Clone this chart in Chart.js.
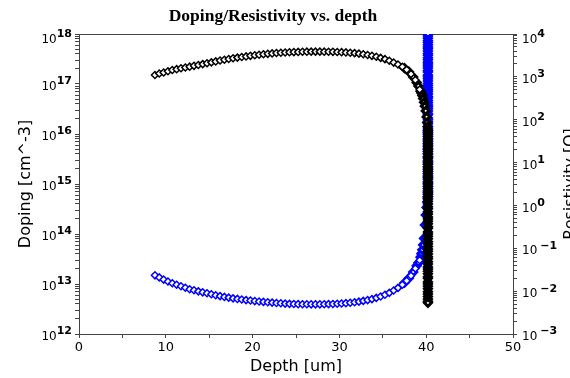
<!DOCTYPE html>
<html>
<head>
<meta charset="utf-8">
<script src="https://cdn.jsdelivr.net/npm/chart.js@4"></script>
<style>
  html, body { margin: 0; padding: 0; background: #fff; }
  #wrap { width: 570px; height: 378px; position: relative; }
</style>
</head>
<body>
<div id="wrap"><canvas id="chart"></canvas></div>
<script>
// depth [um] of the curved part, shared by both series
const depth = [8.75, 9.25, 9.75, 10.25, 10.75, 11.25, 11.75, 12.25, 12.75, 13.25,
  13.75, 14.25, 14.75, 15.25, 15.75, 16.25, 16.75, 17.25, 17.75, 18.25,
  18.75, 19.25, 19.75, 20.25, 20.75, 21.25, 21.75, 22.25, 22.75, 23.25,
  23.75, 24.25, 24.75, 25.25, 25.75, 26.25, 26.75, 27.25, 27.75, 28.25,
  28.75, 29.25, 29.75, 30.25, 30.75, 31.25, 31.75, 32.25, 32.75, 33.25,
  33.75, 34.25, 34.75, 35.25, 35.75, 36.25, 36.75, 37.25, 37.75, 38.25,
  38.75, 39.25];

// doping [cm^-3]
const doping = [1.51e17, 1.62e17, 1.70e17, 1.80e17, 1.91e17, 1.98e17, 2.06e17, 2.14e17, 2.22e17, 2.31e17,
  2.40e17, 2.50e17, 2.60e17, 2.71e17, 2.83e17, 2.95e17, 3.06e17, 3.16e17, 3.27e17, 3.37e17,
  3.47e17, 3.56e17, 3.66e17, 3.76e17, 3.85e17, 3.93e17, 4.01e17, 4.09e17, 4.16e17, 4.22e17,
  4.27e17, 4.31e17, 4.35e17, 4.38e17, 4.41e17, 4.43e17, 4.44e17, 4.44e17, 4.44e17, 4.43e17,
  4.42e17, 4.40e17, 4.37e17, 4.33e17, 4.28e17, 4.22e17, 4.14e17, 4.05e17, 3.94e17, 3.80e17,
  3.66e17, 3.51e17, 3.33e17, 3.14e17, 2.92e17, 2.68e17, 2.45e17, 2.21e17, 1.93e17, 1.58e17,
  1.20e17, 7.76e16];

// resistivity [Ohm]
const resistivity = [0.0234, 0.0209, 0.0186, 0.0168, 0.0153, 0.0141, 0.0130, 0.0120, 0.0111, 0.0105,
  0.00989, 0.00938, 0.00891, 0.00847, 0.00804, 0.00766, 0.00733, 0.00705, 0.00679, 0.00658,
  0.00637, 0.00618, 0.00603, 0.00586, 0.00573, 0.00561, 0.00550, 0.00540, 0.00530, 0.00520,
  0.00512, 0.00505, 0.00500, 0.00497, 0.00494, 0.00493, 0.00492, 0.00492, 0.00492, 0.00494,
  0.00498, 0.00501, 0.00507, 0.00514, 0.00524, 0.00536, 0.00551, 0.00569, 0.00592, 0.00619,
  0.00653, 0.00697, 0.00750, 0.00822, 0.00912, 0.01035, 0.0119, 0.0141, 0.0174, 0.0229,
  0.0339, 0.0525];

// extra (denser) points in the steep bend before the junction
const bendDepth = [37.5, 38.0, 38.5, 38.9, 39.1, 39.35, 39.45, 39.55, 39.65, 39.75, 39.85, 39.95, 40.05, 40.12, 40.17];
const dopingBend = [2.07e17, 1.76e17, 1.38e17, 1.07e17, 9.1e16, 7.2e16, 6.6e16, 5.9e16, 5.1e16, 4.3e16, 3.6e16, 2.9e16, 2.2e16, 1.7e16, 1.4e16];
const resistBend = [0.0157, 0.020, 0.0279, 0.039, 0.0457, 0.062, 0.075, 0.092, 0.12, 0.17, 0.35, 0.6, 0.9, 1.2, 1.5];

// vertical part at the junction
const edgeDepth = 40.2;
const dopingEdge = [1.2e16, 1.1e16, 1e16,
  9e15, 8e15, 7e15, 6.3e15, 5.6e15, 5e15, 4.5e15, 4e15, 3.5e15, 3.2e15, 2.8e15, 2.5e15, 2.2e15, 2e15, 1.8e15, 1.6e15, 1.4e15, 1.3e15, 1.1e15, 1e15,
  9e14, 8e14, 7e14, 6.3e14, 5.6e14, 5e14, 4.5e14, 4e14, 3.5e14, 3.2e14, 2.8e14, 2.5e14, 2.2e14, 2e14, 1.8e14, 1.6e14, 1.4e14, 1.3e14, 1.1e14, 1e14,
  9e13, 8e13, 7e13, 6.3e13, 5.6e13, 5e13, 4.5e13, 4e13, 3.5e13, 3.2e13, 2.8e13, 2.5e13, 2.2e13, 2e13, 1.8e13, 1.6e13, 1.4e13, 1.3e13, 1.1e13, 1e13,
  9e12, 8e12, 7e12, 6.3e12, 5.6e12, 5e12, 4.5e12, 4.2e12];
const resistEdge = [1.6, 1.8, 2, 2.2, 2.5, 2.8, 3.2, 3.5, 4, 4.5, 5, 5.6, 6.3, 7, 8, 9,
  10, 11, 13, 14, 16, 18, 20, 22, 25, 28, 32, 35, 40, 45, 50, 56, 63, 70, 80, 90,
  100, 110, 130, 140, 160, 180, 200, 220, 250, 280, 320, 350, 400, 450, 500, 560, 630, 700, 800, 900,
  1000, 1100, 1300, 1400, 1600, 1800, 2000, 2200, 2500, 2800, 3200, 3500, 4000, 4500, 5000, 5600, 6300, 7000, 8000, 9000,
  10000];

// axis decades (labels are 10^n)
const dopingExp = [12, 13, 14, 15, 16, 17, 18];
const resistExp = [-3, -2, -1, 0, 1, 2, 3, 4];

function logTicks(exps) {
  const t = [];
  exps.forEach((e, i) => {
    t.push({ value: Math.pow(10, e), major: true });
    if (i < exps.length - 1) {
      for (let m = 2; m < 10; m++) t.push({ value: m * Math.pow(10, e), major: false });
    }
  });
  return t;
}

function points(xs, ys) {
  return ys.map((y, i) => ({ x: xs[i], y: y }));
}

const dopingPts = points(depth, doping);
const dopingEdgePts = points(bendDepth, dopingBend).concat(dopingEdge.map(v => ({ x: edgeDepth, y: v })));
const resistPts = points(depth, resistivity);
const resistEdgePts = points(bendDepth, resistBend).concat(resistEdge.map(v => ({ x: edgeDepth, y: v })));

const axisColor = '#444';

// 10 with a raised exponent, drawn next to the major ticks
function drawPowLabels(chart, scaleId, exps, side) {
  const s = chart.scales[scaleId];
  const ctx = chart.ctx;
  exps.forEach(e => {
    const y = s.getPixelForValue(Math.pow(10, e));
    const yc = Math.max(y + 3, 40);
    const sup = e < 0 ? '\u2212' + Math.abs(e) : String(e);
    const gap = e < 0 ? 3 : 0;
    ctx.font = '12px "DejaVu Sans"';
    const wb = ctx.measureText('10').width;
    ctx.font = 'bold 11px "DejaVu Sans"';
    const ws = ctx.measureText(sup).width;
    const x0 = side === 'left' ? s.right - 7 - wb - gap - ws : s.left + 9;
    ctx.fillStyle = '#000';
    ctx.textAlign = 'left';
    ctx.textBaseline = 'middle';
    ctx.font = '12px "DejaVu Sans"';
    ctx.fillText('10', x0, yc);
    ctx.font = 'bold 11px "DejaVu Sans"';
    ctx.fillText(sup, x0 + wb + gap, yc - 5.5);
  });
}

const decor = {
  id: 'decor',
  beforeDatasetsDraw(chart) {
    const { ctx, chartArea: a } = chart;
    ctx.save();
    ctx.strokeStyle = axisColor;
    ctx.lineWidth = 1;
    ctx.beginPath();
    ctx.moveTo(a.left, a.top + 0.5);
    ctx.lineTo(a.right, a.top + 0.5);
    ctx.stroke();
    ctx.restore();
  },
  afterDraw(chart) {
    const { ctx, chartArea: a } = chart;
    ctx.save();
    drawPowLabels(chart, 'y', dopingExp, 'left');
    drawPowLabels(chart, 'y1', resistExp, 'right');
    ctx.fillStyle = '#000';
    ctx.font = 'bold 17.5px "Liberation Serif"';
    ctx.textAlign = 'center';
    ctx.textBaseline = 'middle';
    ctx.fillText('Doping/Resistivity vs. depth', 273, 16);
    ctx.translate(563, (a.top + a.bottom) / 2);
    ctx.rotate(-Math.PI / 2);
    ctx.font = '16px "DejaVu Sans"';
    ctx.textBaseline = 'top';
    ctx.fillText('Resistivity [Ω]', 0, 0);
    ctx.restore();
  }
};

const markerStyle = { pointStyle: 'rectRot', pointRadius: 3.5, borderWidth: 1.5, backgroundColor: '#fff' };
// densely packed markers at the junction merge into a solid band
const edgeStyle = { pointStyle: 'rectRot', pointRadius: 3.5, borderWidth: 3, backgroundColor: '#fff' };

new Chart(document.getElementById('chart'), {
  type: 'scatter',
  data: {
    datasets: [
      Object.assign({ label: 'Doping', data: dopingPts, yAxisID: 'y', borderColor: '#000' }, markerStyle),
      Object.assign({ label: 'Doping (junction)', data: dopingEdgePts, yAxisID: 'y', borderColor: '#000' }, edgeStyle),
      Object.assign({ label: 'Resistivity', data: resistPts, yAxisID: 'y1', borderColor: '#0000ff' }, markerStyle),
      Object.assign({ label: 'Resistivity (junction)', data: resistEdgePts, yAxisID: 'y1', borderColor: '#0000ff' }, edgeStyle)
    ]
  },
  options: {
    responsive: true,
    maintainAspectRatio: false,
    animation: false,
    events: [],
    layout: { padding: { top: 34, left: 0, right: 0, bottom: 0 } },
    plugins: { legend: { display: false }, title: { display: false }, tooltip: { enabled: false } },
    scales: {
      x: {
        type: 'linear',
        min: 0, max: 50,
        grid: { drawOnChartArea: false, tickLength: 4, color: axisColor },
        border: { color: axisColor },
        ticks: {
          stepSize: 5, padding: 2, color: '#000', font: { family: 'DejaVu Sans', size: 13 }, maxRotation: 0,
          callback: v => (v % 10 === 0 ? String(v) : '')
        },
        title: { display: true, text: 'Depth [um]', color: '#000',
          font: { family: 'DejaVu Sans', size: 16 }, padding: { top: 0, bottom: 2 } },
        afterFit: s => { s.height = 44; }
      },
      y: {
        type: 'logarithmic',
        position: 'left',
        min: 1e12, max: 1e18,
        afterBuildTicks: s => { s.ticks = logTicks(dopingExp); },
        grid: { drawOnChartArea: false, tickLength: 4, color: axisColor },
        border: { color: axisColor },
        ticks: { autoSkip: false, callback: () => '' },
        title: { display: true, text: 'Doping [cm^-3]', color: '#000',
          font: { family: 'DejaVu Sans', size: 16 }, padding: { top: 16, bottom: 0 } },
        afterFit: s => { s.width = 79; }
      },
      y1: {
        type: 'logarithmic',
        position: 'right',
        min: 1e-3, max: 1e4,
        afterBuildTicks: s => { s.ticks = logTicks(resistExp); },
        grid: { drawOnChartArea: false, tickLength: 4, color: axisColor },
        border: { color: axisColor },
        ticks: { autoSkip: false, callback: () => '' },
        afterFit: s => { s.width = 57; }
      }
    }
  },
  plugins: [decor]
});
</script>
</body>
</html>
